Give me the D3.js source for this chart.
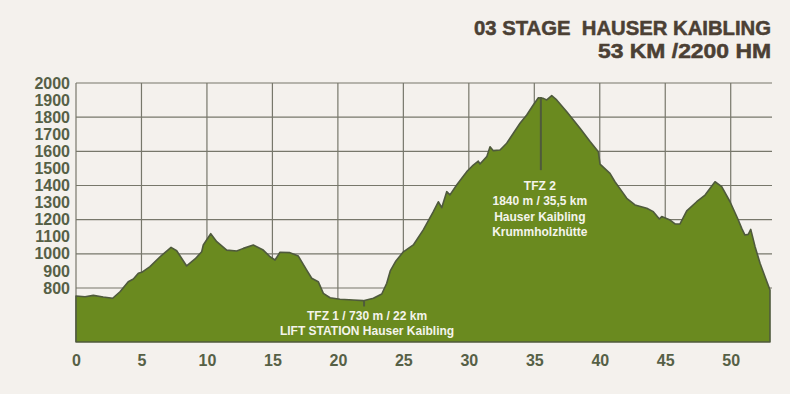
<!DOCTYPE html>
<html>
<head>
<meta charset="utf-8">
<script src="https://cdn.jsdelivr.net/npm/d3@7"></script>
<style>
  html, body { margin: 0; padding: 0; background: #ffffff; }
  svg { display: block; }
  .axis text { font-family: "Liberation Sans", Arial, sans-serif; font-weight: bold; font-size: 16px; fill: #566046; }
  .title { font-family: "Liberation Sans", Arial, sans-serif; font-weight: bold; font-size: 20px; fill: #4b4034;
           stroke: #4b4034; stroke-width: 0.5px; white-space: pre; }
  .note { font-family: "Liberation Sans", Arial, sans-serif; font-weight: bold; font-size: 12px; fill: #f4f4ec; }
</style>
</head>
<body>
<svg id="chart" width="800" height="394"></svg>
<script>
// profile: distance in km, elevation in m
var km = [0, 0.69, 1.32, 2.08, 2.8, 3.36, 3.99, 4.38, 4.76, 5.02, 5.65, 6.42, 7.26, 7.69, 8.45, 9.09, 9.6, 9.72,
  10.29, 10.75, 11.51, 12.27, 12.78, 13.54, 14.3, 14.82, 15.2, 15.58, 16.34, 16.98, 17.62, 18.0, 18.5, 18.89,
  19.4, 20.16, 21.18, 21.94, 22.71, 23.35, 23.73, 24.0, 24.4, 25.0, 25.76, 26.52, 27.29, 27.67, 27.93, 28.31, 28.56,
  29.07, 29.46, 29.84, 30.34, 30.72, 30.85, 31.37, 31.62, 31.87, 32.38, 32.89, 33.4, 33.91, 34.42, 34.92, 35.31,
  35.69, 35.95, 36.33, 36.71, 37.48, 38.49, 39.26, 39.89, 40.02, 40.78, 41.16, 41.8, 42.06, 42.69, 43.59, 44.09,
  44.55, 44.73, 45.37, 45.75, 46.13, 46.64, 47.4, 48.04, 48.8, 49.31, 49.95, 50.58, 50.84, 51.09, 51.34, 51.53,
  51.86, 52.24, 52.62, 53];
var elevation = [753, 749, 757, 747, 740, 778, 837, 853, 886, 892, 925, 983, 1038, 1018, 929, 970, 1012, 1052,
  1118, 1071, 1022, 1017, 1032, 1052, 1022, 983, 964, 1009, 1007, 987, 905, 857, 837, 769,
  743, 734, 730, 726, 740, 765, 828, 900, 955, 1012, 1052, 1140, 1247, 1305, 1270, 1364, 1345,
  1403, 1442, 1481, 1520, 1543, 1526, 1569, 1627, 1604, 1608, 1647, 1706, 1764, 1813, 1871, 1914,
  1910, 1901, 1926, 1901, 1832, 1735, 1657, 1598, 1525, 1471, 1422, 1354, 1325, 1286, 1267, 1247,
  1204, 1218, 1198, 1175, 1175, 1252, 1305, 1344, 1422, 1393, 1305, 1198, 1149, 1110, 1114, 1143,
  1042, 945, 866, 788];

var xTicks = [0, 5, 10, 15, 20, 25, 30, 35, 40, 45, 50];
var yTicks = [800, 900, 1000, 1100, 1200, 1300, 1400, 1500, 1600, 1700, 1800, 1900, 2000];
var yGrid = [800, 1000, 1200, 1400, 1600, 1800, 2000];

var titleLines = ["03 STAGE  HAUSER KAIBLING", "53 KM /2200 HM"];

// refreshment stops
var stopKm = [22, 35.5];
var stopTop = [726, 1918];
var stopBottom = [692, 1490];
var stopLabels = [
  ["TFZ 1 / 730 m / 22 km", "LIFT STATION Hauser Kaibling"],
  ["TFZ 2", "1840 m / 35,5 km", "Hauser Kaibling", "Krummholzhütte"]
];

var data = km.map(function(d, i) { return { km: d, ele: elevation[i] }; });

var svg = d3.select("#chart");

svg.append("rect")
  .attr("width", 790).attr("height", 394)
  .attr("fill", "#f4f1ed");

var x = d3.scaleLinear().domain([0, 53]).range([76, 770]);
var y = d3.scaleLinear().domain([484, 2000]).range([342, 83]);

// grid
var grid = svg.append("g").attr("stroke", "#77776b").attr("stroke-width", 1.2);
grid.selectAll("line.h")
  .data(yGrid)
  .enter().append("line")
    .attr("class", "h")
    .attr("x1", x(0)).attr("x2", x(53) + 2)
    .attr("y1", function(d) { return y(d); })
    .attr("y2", function(d) { return y(d); });
grid.selectAll("line.v")
  .data(xTicks)
  .enter().append("line")
    .attr("class", "v")
    .attr("x1", function(d) { return x(d); })
    .attr("x2", function(d) { return x(d); })
    .attr("y1", y(2000)).attr("y2", y(484));

// profile
var area = d3.area()
  .x(function(d) { return x(d.km); })
  .y0(y(484))
  .y1(function(d) { return y(d.ele); });

svg.append("path")
  .datum(data)
  .attr("d", area)
  .attr("fill", "#6a8a1f")
  .attr("stroke", "#4f5a3c")
  .attr("stroke-width", 1.6)
  .attr("stroke-linejoin", "round");

// axes
svg.append("g")
  .attr("class", "axis")
  .attr("transform", "translate(" + x(0) + ",0)")
  .call(d3.axisLeft(y).tickValues(yTicks).tickSize(0).tickPadding(6).tickFormat(d3.format("d")))
  .call(function(g) { g.select(".domain").remove(); });

svg.append("g")
  .attr("class", "axis")
  .attr("transform", "translate(0," + y(484) + ")")
  .call(d3.axisBottom(x).tickValues(xTicks).tickSize(0).tickPadding(13).tickFormat(d3.format("d")))
  .call(function(g) { g.select(".domain").remove(); });

// stop markers
stopKm.forEach(function(k, i) {
  svg.append("line")
    .attr("x1", x(k)).attr("x2", x(k))
    .attr("y1", y(stopTop[i])).attr("y2", y(stopBottom[i]))
    .attr("stroke", "#4f5a3c")
    .attr("stroke-width", 2);
});

// labels under the markers
var t1 = svg.append("text").attr("class", "note").attr("text-anchor", "middle");
stopLabels[0].forEach(function(s, j) {
  t1.append("tspan").attr("x", x(stopKm[0]) + 3).attr("y", y(stopBottom[0]) + 14 + j * 15).text(s);
});
var t2 = svg.append("text").attr("class", "note").attr("text-anchor", "middle");
stopLabels[1].forEach(function(s, j) {
  t2.append("tspan").attr("x", x(stopKm[1]) - 1).attr("y", y(stopBottom[1]) + 20 + j * 15.2).text(s);
});

// title
svg.selectAll("text.title")
  .data(titleLines)
  .enter().append("text")
    .attr("class", "title")
    .attr("xml:space", "preserve")
    .attr("text-anchor", "end")
    .attr("x", 771)
    .attr("y", function(d, i) { return 35 + i * 22.5; })
    .attr("textLength", function(d, i) { return i === 0 ? 297 : 173; })
    .attr("lengthAdjust", "spacingAndGlyphs")
    .text(function(d) { return d; });
</script>
</body>
</html>
